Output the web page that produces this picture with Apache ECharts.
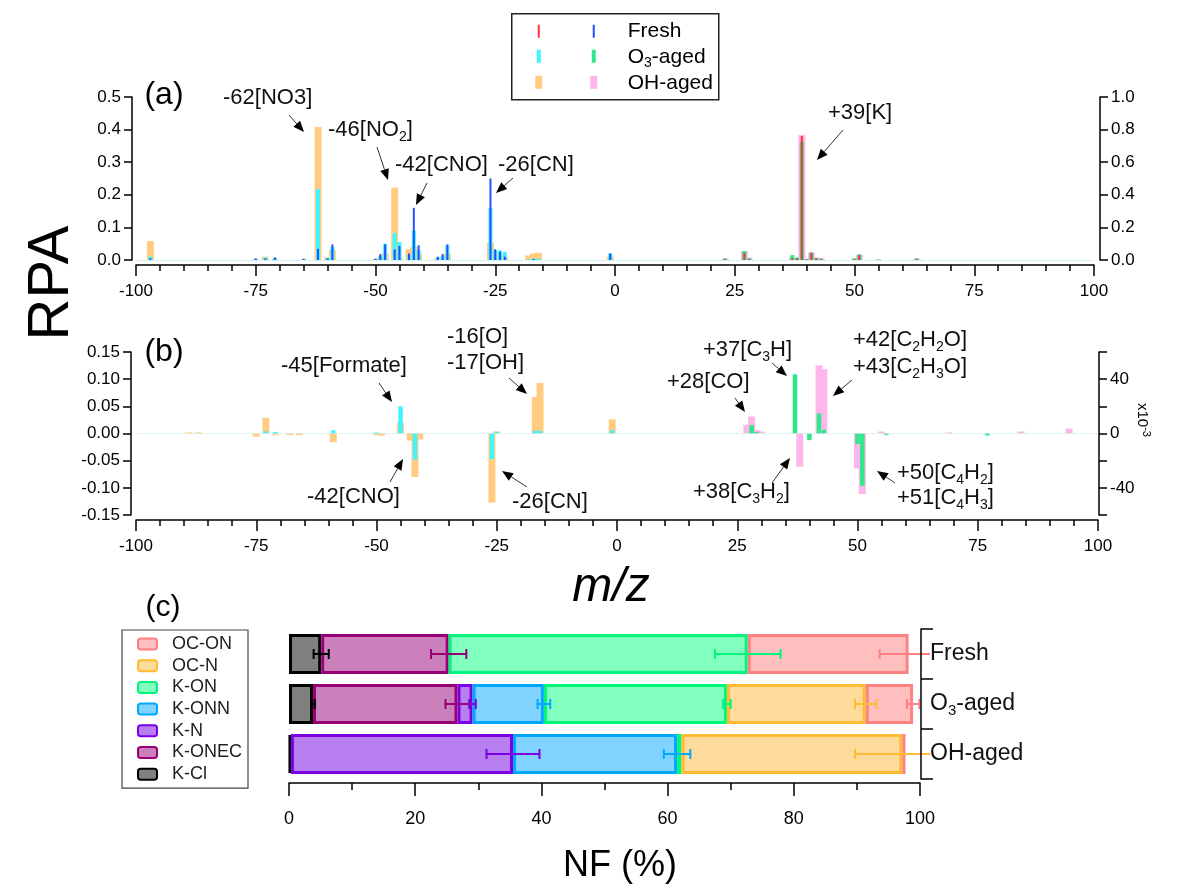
<!DOCTYPE html>
<html>
<head>
<meta charset="utf-8">
<title>RPA spectra and NF</title>
<script src="https://cdn.jsdelivr.net/npm/echarts@6/dist/echarts.min.js"></script>
<style>
  html, body { margin: 0; padding: 0; background: #fff; }
  #chart { width: 1179px; height: 889px; }
</style>
</head>
<body>
<div id="chart"></div>
<script>
// ---- panel (a): averaged spectra, anions on the left axis
const mzNegA = [-97, -75, -73, -71, -65, -62, -60, -59, -50, -49, -48, -46, -45, -43, -42, -41, -37, -36, -35, -26, -25, -24, -23, -18, -17, -16, -1];
const freshNegA = [0.005, 0.005, 0.004, 0.008, 0.004, 0.034, 0.005, 0.048, 0.004, 0.018, 0.048, 0.032, 0.043, 0.02, 0.16, 0.045, 0.01, 0.018, 0.048, 0.25, 0.033, 0.025, 0.01, 0, 0.003, 0, 0.02];
const o3NegA = [0.01, 0.003, 0.008, 0.006, 0.002, 0.218, 0.006, 0.04, 0.003, 0.012, 0.05, 0.083, 0.055, 0.015, 0.09, 0.03, 0.008, 0.012, 0.045, 0.16, 0.03, 0.03, 0.025, 0.002, 0.005, 0.004, 0.02];
const ohNegA = [0.058, 0.002, 0.01, 0.003, 0.002, 0.408, 0.008, 0.03, 0.002, 0.008, 0.02, 0.222, 0.005, 0.033, 0.04, 0.02, 0.005, 0.005, 0.02, 0.053, 0.025, 0.015, 0.008, 0.014, 0.02, 0.022, 0.01];
// cations on the right axis
const mzPosA = [23, 27, 28, 37, 38, 39, 40, 41, 42, 43, 50, 51, 55, 63];
const freshPosA = [0.005, 0.043, 0.005, 0.01, 0.01, 0.76, 0.005, 0.045, 0.01, 0.005, 0.005, 0.03, 0, 0.005];
const o3PosA = [0.01, 0.055, 0.01, 0.03, 0.015, 0.725, 0.005, 0.045, 0.012, 0.008, 0.01, 0.035, 0.003, 0.01];
const ohPosA = [0.008, 0.055, 0.015, 0.015, 0.01, 0.767, 0.005, 0.045, 0.015, 0.012, 0.008, 0.03, 0.004, 0.008];

// ---- panel (b): difference spectra (aged - fresh)
const mzNegB = [-89, -87, -75, -73, -71, -68, -66, -59, -50, -49, -45, -43, -42, -41, -26, -25, -17, -16, -1];
const o3NegB = [0, 0, 0, 0.004, 0.003, 0, 0, 0.006, 0.002, 0, 0.05, 0, -0.048, 0, -0.047, 0.003, 0.005, 0.005, 0.006];
const ohNegB = [0.002, 0.002, -0.006, 0.029, -0.003, -0.003, -0.003, -0.016, -0.003, -0.004, 0.02, -0.013, -0.08, -0.011, -0.127, 0.004, 0.067, 0.093, 0.026];
// cations, in units of 1e-3 (right axis)
const mzPosB = [27, 28, 29, 30, 37, 38, 40, 42, 43, 50, 51, 55, 56, 69, 77, 84, 94];
const o3PosB = [0, 6.1, 1, 0, 43.6, 0, -4.9, 14.7, 2.7, -7.8, -38.5, 0, -1, 0, -1.5, 0, 0];
const ohPosB = [6.4, 12.5, 2.5, 1.5, 0, -24.5, 0, 50.2, 47.3, -25.7, -44.6, 1.5, 0, 0.8, 0, 1.5, 3.5];
const rightTicksB = [-40, 0, 40];

// ---- panel (c): number fraction of particle classes
const samples = ['Fresh', 'O3-aged', 'OH-aged'];
const classes = ['K-Cl', 'K-ONEC', 'K-N', 'K-ONN', 'K-ON', 'OC-N', 'OC-ON'];
const nfKCl = [5.1, 3.8, 0.3];
const nfKONEC = [20.2, 22.9, 0];
const nfKN = [0, 2.4, 35.2];
const nfKONN = [0, 11.3, 26.0];
const nfKON = [47.4, 29.0, 0.7];
const nfOCN = [0, 22.0, 35.0];
const nfOCON = [25.5, 7.5, 0.5];
const errKCl = [1.2, 0.3, 0];
const errKONEC = [2.8, 1.9, 0];
const errKN = [0, 0.5, 4.2];
const errKONN = [0, 1.0, 2.1];
const errKON = [5.2, 0.6, 0];
const errOCN = [0, 1.7, 7.5];
const errOCON = [4.6, 1.0, 0];

const nfAll = [nfKCl, nfKONEC, nfKN, nfKONN, nfKON, nfOCN, nfOCON];
const errAll = [errKCl, errKONEC, errKN, errKONN, errKON, errOCN, errOCON];
const edgeColors = ['#000000', '#990077', '#7b00e6', '#00a8ff', '#00f57a', '#ffbb33', '#ff8080'];
const fillColors = ['#808080', '#cc80bb', '#b77ff0', '#80d2ff', '#80ffbf', '#fddb9b', '#ffbfbf'];

const FONT = '"Liberation Sans", Arial, Helvetica, sans-serif';
const C = { fresh: ['#2050ff', '#ff2d3c'], o3: ['#3ff3ff', '#2ee889'], oh: ['#ffcc80', '#ffb6ea'] };

const pairs = (xs, ys) => xs.map((x, i) => [x, ys[i]]);

function spike(width, color) {
  return function (params, api) {
    const top = api.coord([api.value(0), api.value(1)]);
    const base = api.coord([api.value(0), 0]);
    return {
      type: 'rect',
      shape: { x: top[0] - width / 2, y: Math.min(top[1], base[1]), width: width, height: Math.abs(base[1] - top[1]) },
      style: { fill: color }
    };
  };
}
function spikes(name, xi, yi, data, width, color, zero) {
  const s = {
    name: name, type: 'custom', coordinateSystem: 'cartesian2d',
    xAxisIndex: xi, yAxisIndex: yi, data: data, encode: { x: 0, y: 1 },
    renderItem: spike(width, color), silent: true
  };
  if (zero) {
    s.markLine = { silent: true, symbol: 'none', label: { show: false },
      lineStyle: { type: 'dotted', color: zero, width: 1 }, data: [{ yAxis: 0 }] };
  }
  return s;
}

function xAxisMz(gi) {
  return {
    gridIndex: gi, type: 'value', min: -100, max: 100, interval: 25, offset: 5,
    axisLine: { show: true, onZero: false, lineStyle: { color: '#000', width: 1.5 } },
    axisTick: { show: true, length: 11, lineStyle: { color: '#000', width: 1.5 } },
    minorTick: { show: true, splitNumber: 5, length: 6, lineStyle: { color: '#000', width: 1.5 } },
    splitLine: { show: false }, minorSplitLine: { show: false },
    axisLabel: { fontSize: 17, color: '#000', fontFamily: FONT, margin: 18 }
  };
}
function yAxisVal(gi, pos, min, max, step, off, fmt) {
  return {
    gridIndex: gi, type: 'value', position: pos, min: min, max: max, interval: step, offset: off,
    axisLine: { show: true, onZero: false, lineStyle: { color: '#000', width: 1.5 } },
    axisTick: { show: true, length: 8, lineStyle: { color: '#000', width: 1.5 } },
    splitLine: { show: false },
    axisLabel: { fontSize: 17, color: '#000', fontFamily: FONT, margin: 11, formatter: fmt }
  };
}

const RICH = {
  n: { fontFamily: FONT, fontSize: 22, lineHeight: 28, color: '#111' },
  s: { fontFamily: FONT, fontSize: 14, lineHeight: 14, verticalAlign: 'bottom', color: '#111' },
  m: { fontFamily: FONT, fontSize: 21, lineHeight: 26, color: '#111' },
  t: { fontFamily: FONT, fontSize: 14, lineHeight: 13, verticalAlign: 'bottom', color: '#111' },
  c: { fontFamily: FONT, fontSize: 23, lineHeight: 28, color: '#111', backgroundColor: '#fff' },
  d: { fontFamily: FONT, fontSize: 15, lineHeight: 14, verticalAlign: 'bottom', color: '#111', backgroundColor: '#fff' }
};
function note(x, y, text) {
  return { type: 'text', x: x, y: y, silent: true,
    style: { text: text, rich: RICH, fill: '#111', fontFamily: FONT, fontSize: 22, verticalAlign: 'middle', textVerticalAlign: 'middle' } };
}
function arrow(x1, y1, x2, y2) {
  const a = Math.atan2(y2 - y1, x2 - x1), L = 11, W = 4.5;
  const bx = x2 - L * Math.cos(a), by = y2 - L * Math.sin(a);
  return [
    { type: 'line', silent: true, shape: { x1: x1, y1: y1, x2: bx, y2: by }, style: { stroke: '#333', lineWidth: 1 } },
    { type: 'polygon', silent: true,
      shape: { points: [[x2, y2], [bx + W * Math.sin(a), by - W * Math.cos(a)], [bx - W * Math.sin(a), by + W * Math.cos(a)]] },
      style: { fill: '#000' } }
  ];
}
function big(x, y, text, size, rot, italic) {
  return { type: 'text', x: x, y: y, rotation: rot || 0, silent: true,
    style: { text: text, fill: '#000', fontFamily: FONT, fontSize: size, fontStyle: italic ? 'italic' : 'normal',
      align: 'center', verticalAlign: 'middle', textAlign: 'center', textVerticalAlign: 'middle' } };
}

// top legend for panels (a)/(b)
const legendTop = {
  type: 'group', left: 511, top: 13, silent: true,
  children: [
    { type: 'rect', shape: { x: 0, y: 0, width: 207, height: 86 }, style: { fill: '#fff', stroke: '#222', lineWidth: 1.5 } },
    { type: 'rect', shape: { x: 26, y: 11, width: 2, height: 13 }, style: { fill: C.fresh[1] } },
    { type: 'rect', shape: { x: 81, y: 11, width: 2, height: 13 }, style: { fill: C.fresh[0] } },
    { type: 'rect', shape: { x: 25, y: 36, width: 4, height: 13 }, style: { fill: C.o3[0] } },
    { type: 'rect', shape: { x: 80, y: 36, width: 4, height: 13 }, style: { fill: C.o3[1] } },
    { type: 'rect', shape: { x: 23.5, y: 62, width: 7, height: 13 }, style: { fill: C.oh[0] } },
    { type: 'rect', shape: { x: 78.5, y: 62, width: 7, height: 13 }, style: { fill: C.oh[1] } },
    { type: 'text', x: 116, y: 17, style: { text: '{m|Fresh}', rich: RICH, verticalAlign: 'middle', textVerticalAlign: 'middle' } },
    { type: 'text', x: 116, y: 43, style: { text: '{m|O}{t|3}{m|-aged}', rich: RICH, verticalAlign: 'middle', textVerticalAlign: 'middle' } },
    { type: 'text', x: 116, y: 69, style: { text: '{m|OH-aged}', rich: RICH, verticalAlign: 'middle', textVerticalAlign: 'middle' } }
  ]
};

const graphics = [legendTop,
  big(52, 283, 'RPA', 58, Math.PI / 2),
  big(611, 588, 'm/z', 48, 0, true),
  big(620, 866, 'NF (%)', 36),
  big(164, 95, '(a)', 32),
  big(164, 352, '(b)', 32),
  big(163, 608, '(c)', 30),
  { type: 'text', x: 1142, y: 420, rotation: -Math.PI / 2, silent: true,
    style: { text: '{r|x10}{p|-3}', align: 'center', verticalAlign: 'middle', textAlign: 'center', textVerticalAlign: 'middle',
      rich: { r: { fontFamily: FONT, fontSize: 15, lineHeight: 20, color: '#111' },
              p: { fontFamily: FONT, fontSize: 11, lineHeight: 10, verticalAlign: 'top', color: '#111' } } } },
  // (a) annotations
  note(223, 98, '{n|-62[NO3]}'), ...arrow(289, 115, 304, 132),
  note(328, 130, '{n|-46[NO}{s|2}{n|]}'), ...arrow(377, 147, 388, 180),
  note(395, 165, '{n|-42[CNO]}'), ...arrow(427, 183, 416, 205),
  note(498, 165, '{n|-26[CN]}'), ...arrow(513, 178, 496, 193),
  note(828, 113, '{n|+39[K]}'), ...arrow(843, 130, 817, 160),
  // (b) annotations
  note(281, 366, '{n|-45[Formate]}'), ...arrow(379, 383, 392, 402),
  note(307, 497, '{n|-42[CNO]}'), ...arrow(390, 482, 403, 459),
  note(447, 337, '{n|-16[O]}'), note(447, 363, '{n|-17[OH]}'), ...arrow(509, 378, 527, 394),
  note(512, 502, '{n|-26[CN]}'), ...arrow(527, 487, 502, 471),
  note(667, 382, '{n|+28[CO]}'), ...arrow(735, 398, 745, 412),
  note(703, 350, '{n|+37[C}{s|3}{n|H]}'), ...arrow(772, 363, 787, 376),
  note(693, 492, '{n|+38[C}{s|3}{n|H}{s|2}{n|]}'), ...arrow(772, 483, 790, 458),
  note(853, 340, '{n|+42[C}{s|2}{n|H}{s|2}{n|O]}'), note(853, 367, '{n|+43[C}{s|2}{n|H}{s|3}{n|O]}'), ...arrow(852, 380, 833, 396),
  note(897, 473, '{n|+50[C}{s|4}{n|H}{s|2}{n|]}'), note(897, 498, '{n|+51[C}{s|4}{n|H}{s|3}{n|]}'), ...arrow(895, 483, 877, 471)
];

// ---- panel (c) series: stacked bars + error bars
const nfSeries = classes.map((c, k) => ({
  name: c, type: 'bar', stack: 'nf', xAxisIndex: 2, yAxisIndex: 4, barWidth: 40, silent: true,
  data: nfAll[k].map(v => (v > 0 ? v : '-')),
  itemStyle: { color: fillColors[k], borderColor: edgeColors[k], borderWidth: 3 }
}));
const errData = [];
samples.forEach((s, i) => {
  let cum = 0;
  classes.forEach((c, k) => {
    cum += nfAll[k][i];
    if (errAll[k][i] > 0) errData.push([i, cum, errAll[k][i], k]);
  });
});
const errSeries = {
  name: 'nf-err', type: 'custom', coordinateSystem: 'cartesian2d', xAxisIndex: 2, yAxisIndex: 4,
  data: errData, encode: { x: 1, y: 0 }, silent: true, z: 5,
  renderItem: function (params, api) {
    const i = api.value(0), c = api.value(1), e = api.value(2), k = api.value(3);
    const lo = api.coord([c - e, i]), hi = api.coord([c + e, i]);
    const st = { stroke: edgeColors[k], lineWidth: 2 };
    return { type: 'group', children: [
      { type: 'line', shape: { x1: lo[0], y1: lo[1], x2: hi[0], y2: hi[1] }, style: st },
      { type: 'line', shape: { x1: lo[0], y1: lo[1] - 5, x2: lo[0], y2: lo[1] + 5 }, style: st },
      { type: 'line', shape: { x1: hi[0], y1: hi[1] - 5, x2: hi[0], y2: hi[1] + 5 }, style: st }
    ] };
  }
};

const chart = echarts.init(document.getElementById('chart'));
chart.setOption({
  animation: false,
  backgroundColor: '#fff',
  textStyle: { fontFamily: FONT },
  grid: [
    { left: 136, top: 97, width: 958, height: 163 },
    { left: 136, top: 352, width: 962, height: 163 },
    { left: 289, top: 629, width: 631, height: 150 }
  ],
  legend: {
    data: ['OC-ON', 'OC-N', 'K-ON', 'K-ONN', 'K-N', 'K-ONEC', 'K-Cl'],
    orient: 'vertical', left: 122, top: 630, selectedMode: false,
    padding: [5, 6, 5, 15], itemGap: 3.7, itemWidth: 19, itemHeight: 11,
    borderColor: '#444', borderWidth: 1.2,
    itemStyle: { borderWidth: 2 },
    textStyle: { fontSize: 18, lineHeight: 17, color: '#222', fontFamily: FONT, padding: [0, 0, 0, 10] }
  },
  xAxis: [
    xAxisMz(0),
    xAxisMz(1),
    {
      gridIndex: 2, type: 'value', min: 0, max: 100, interval: 20, offset: 4,
      axisLine: { show: true, onZero: false, lineStyle: { color: '#000', width: 1.5 } },
      axisTick: { show: true, length: 13, lineStyle: { color: '#000', width: 1.5 } },
      minorTick: { show: true, splitNumber: 2, length: 7, lineStyle: { color: '#000', width: 1.5 } },
      splitLine: { show: false }, minorSplitLine: { show: false },
      axisLabel: { fontSize: 18, color: '#000', fontFamily: FONT, margin: 27 }
    }
  ],
  yAxis: [
    yAxisVal(0, 'left', 0, 0.5, 0.1, 4, v => v.toFixed(1)),
    yAxisVal(0, 'right', 0, 1.0, 0.2, 6, v => v.toFixed(1)),
    yAxisVal(1, 'left', -0.15, 0.15, 0.05, 5, v => v.toFixed(2)),
    yAxisVal(1, 'right', -60, 60, 20, 1, v => (rightTicksB.indexOf(Math.round(v)) >= 0 ? String(Math.round(v)) : '')),
    {
      gridIndex: 2, type: 'category', data: samples, inverse: true, position: 'right', offset: 1, z: 8,
      axisLine: { show: true, onZero: false, lineStyle: { color: '#000', width: 1.5 } },
      axisTick: { show: true, length: 12, alignWithLabel: false, lineStyle: { color: '#000', width: 1.5 } },
      splitLine: { show: false },
      axisLabel: {
        margin: 9, color: '#111',
        formatter: v => '{c|' + v.replace('O3', 'O}{d|3}{c|') + '}',
        rich: { c: RICH.c, d: RICH.d }
      }
    }
  ],
  graphic: { elements: graphics },
  series: [
    // (a) anions (left axis)
    spikes('a-oh-neg', 0, 0, pairs(mzNegA, ohNegA), 7, C.oh[0], '#a6e6ef'),
    spikes('a-o3-neg', 0, 0, pairs(mzNegA, o3NegA), 4, C.o3[0]),
    spikes('a-fresh-neg', 0, 0, pairs(mzNegA, freshNegA), 2, C.fresh[0]),
    // (a) cations (right axis)
    spikes('a-oh-pos', 0, 1, pairs(mzPosA, ohPosA), 7, C.oh[1]),
    spikes('a-o3-pos', 0, 1, pairs(mzPosA, o3PosA), 4, C.o3[1]),
    spikes('a-fresh-pos', 0, 1, pairs(mzPosA, freshPosA), 2, C.fresh[1]),
    // (b) differences
    spikes('b-oh-neg', 1, 2, pairs(mzNegB, ohNegB), 7, C.oh[0], '#bdf0e0'),
    spikes('b-o3-neg', 1, 2, pairs(mzNegB, o3NegB), 4.5, C.o3[0]),
    spikes('b-oh-pos', 1, 3, pairs(mzPosB, ohPosB), 7, C.oh[1]),
    spikes('b-o3-pos', 1, 3, pairs(mzPosB, o3PosB), 4.5, C.o3[1]),
    // (c)
    ...nfSeries,
    errSeries
  ]
});
</script>
</body>
</html>
